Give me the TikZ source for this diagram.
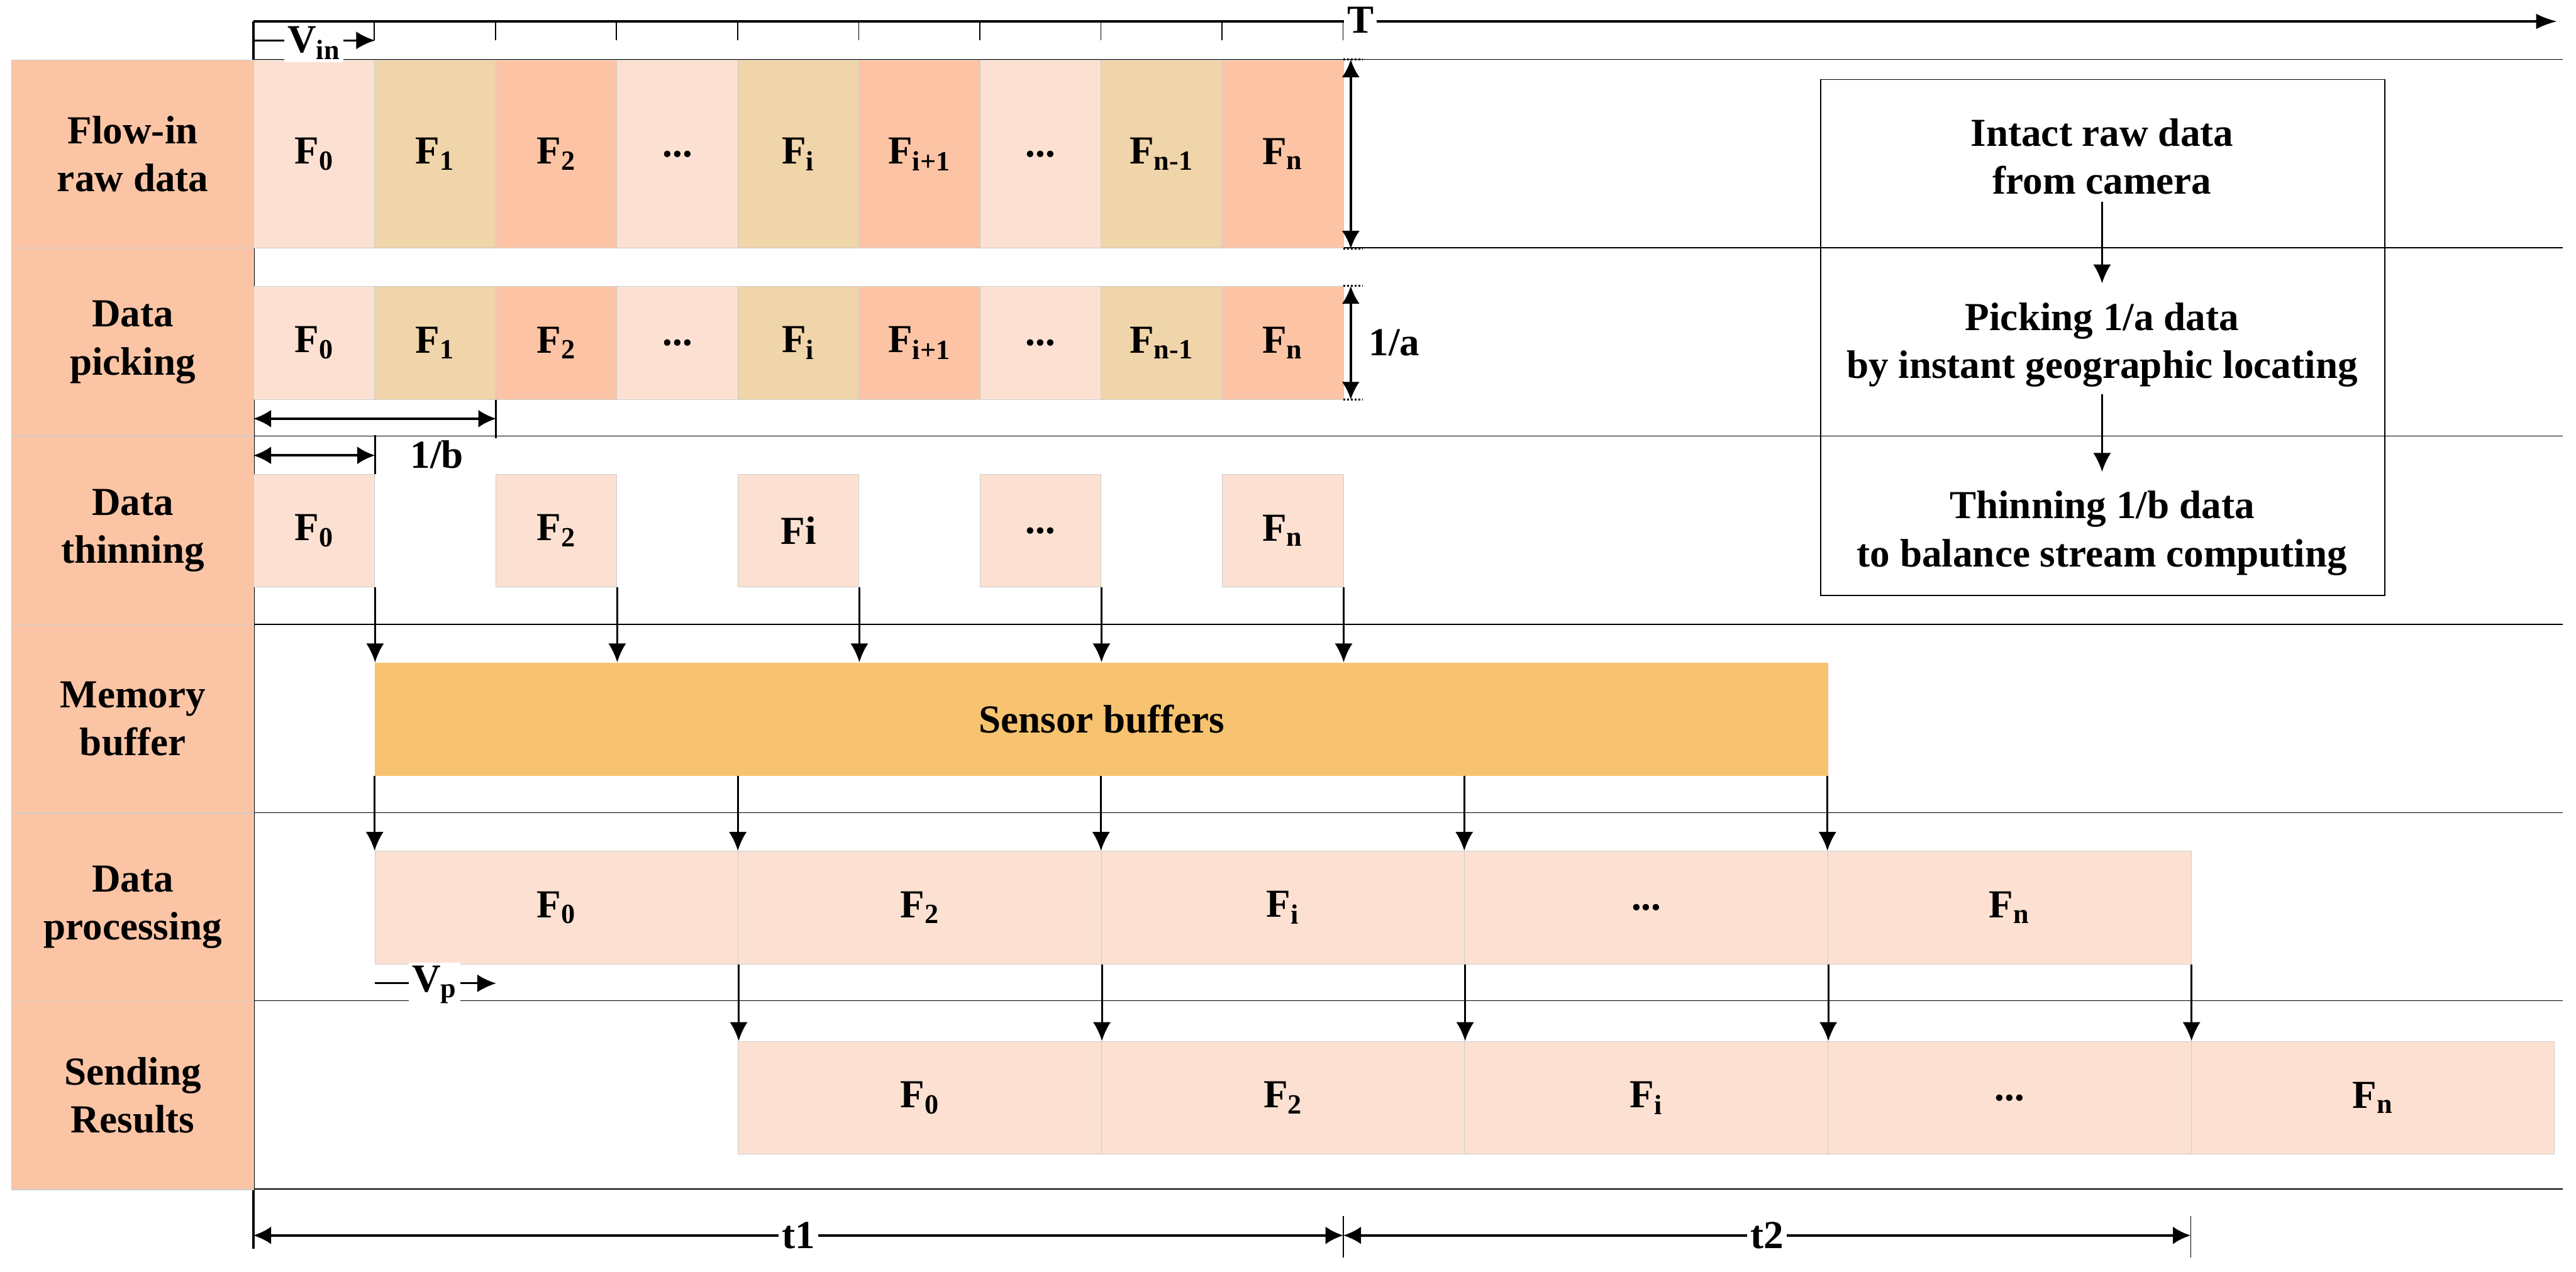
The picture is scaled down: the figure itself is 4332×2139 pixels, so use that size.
\documentclass[tikz,border=0pt]{standalone}
\usepackage{fontspec}
\setmainfont{Liberation Serif}
\usetikzlibrary{arrows.meta,positioning}
\definecolor{labcol}{RGB}{251,197,165}
\definecolor{lightcol}{RGB}{252,225,210}
\definecolor{tancol}{RGB}{240,212,170}
\definecolor{salmoncol}{RGB}{252,196,165}
\definecolor{bufcol}{RGB}{248,195,112}
\newcommand{\Fr}[1]{F\textsubscript{#1}}
\newcommand{\ellip}{...}
\begin{document}
\begin{tikzpicture}[x=0.01cm,y=-0.01cm,font=\fontsize{19}{23}\selectfont\bfseries,
  lab/.style={draw=black!20,line width=0.4pt,fill=labcol,minimum width=4.07cm,minimum height=3.167cm,inner sep=0pt,align=center,anchor=north west},
  cell/.style={draw=black!20,line width=0.3pt,fill=lightcol,minimum width=2.036cm,minimum height=1.9cm,inner sep=0pt,anchor=north west},
  wide/.style={cell,minimum width=6.108cm},
  dn/.style={-{Latex[length=9pt,width=8.5pt]},line width=0.9pt},
  dim/.style={{Latex[length=8.5pt,width=8.5pt]}-{Latex[length=8.5pt,width=8.5pt]},line width=1.2pt},
  rowline/.style={line width=0.45pt},
  tag/.style={fill=white,inner sep=1.5pt}]
\useasboundingbox (0,0) rectangle (4332,2139);

% grid lines and time axis
\foreach \y in {100,416.7,733.3,1050,1366.7,1683.3,2000}
  \draw[rowline] (426,\y) -- (4310,\y);
\draw[line width=1.1pt] (426,36) -- (426,2100);
\draw[line width=1.1pt,-{Latex[length=10pt,width=7.5pt]}] (426,36) -- (4300,36);
\foreach \i in {1,...,9}
  \draw[line width=0.5pt] ({426+203.6*\i},36) -- ({426+203.6*\i},68);
\node[tag] (T) at (2288,34) {T};

% row labels
\foreach \t [count=\i from 0] in {{Flow-in\\raw data},{Data\\picking},{Data\\thinning},{Memory\\buffer},{Data\\processing},{Sending\\Results}}
  \node[lab] (lab\i) at (19,{100+316.67*\i}) {\t};

% flow-in and picked frames
\foreach \t/\c [count=\i from 0] in {\Fr{0}/lightcol,\Fr{1}/tancol,\Fr{2}/salmoncol,\ellip/lightcol,\Fr{i}/tancol,\Fr{i+1}/salmoncol,\ellip/lightcol,\Fr{n-1}/tancol,\Fr{n}/salmoncol}{
  \node[cell,fill=\c,minimum height=3.17cm] (in\i) at ({426+203.6*\i},100) {\t};
  \node[cell,fill=\c] (pk\i) at ({426+203.6*\i},481) {\t};
}

% thinned frames
\foreach \t/\k in {\Fr{0}/0,\Fr{2}/2,Fi/4,\ellip/6,\Fr{n}/8}
  \node[cell] (th\k) at ({426+203.6*\k},797) {\t};

% buffer
\node[cell,fill=bufcol,draw=none,minimum width=24.43cm] (buf) at (630,1114) {Sensor buffers};

% processing and sending
\foreach \t [count=\i from 0] in {\Fr{0},\Fr{2},\Fr{i},\ellip,\Fr{n}}{
  \node[wide] (pr\i) at ({630+610.8*\i},1431) {\t};
  \node[wide] (sd\i) at ({1241+610.8*\i},1751) {\t};
}

% flow arrows
\foreach \k in {0,2,4,6,8}
  \draw[dn] (th\k.south east) -- (th\k.south east |- buf.north);
\foreach \k in {0,...,4}{
  \draw[dn] (pr\k.north west |- buf.south) -- (pr\k.north west);
  \draw[dn] (pr\k.south east) -- (pr\k.south east |- sd\k.north);
}

% speeds
\coordinate (vin) at (426,68);
\draw[dn] (vin) -- (vin -| in0.east);
\node[tag] (vinlab) at (528,72) {V\textsubscript{in}};
\coordinate (vp) at (630,1654);
\draw[dn] (vp) -- (vp -| pk1.east);
\node[tag] (vplab) at (731,1656) {V\textsubscript{p}};

% ratios a and b
\draw[dim] ([xshift=0.12cm]in8.north east) -- ([xshift=0.12cm]in8.south east);
\draw[dim] ([xshift=0.12cm]pk8.north east) -- ([xshift=0.12cm]pk8.south east);
\foreach \n in {in8,pk8}{
  \draw[densely dotted,line width=0.8pt] (\n.north east) -- ++(32,0);
  \draw[densely dotted,line width=0.8pt] (\n.south east) -- ++(32,0);
}
\node[anchor=west] (la) at ([xshift=0.3cm]pk8.east) {1/a};
\draw[line width=0.9pt] (pk1.south east) -- ++(0,65);
\draw[line width=0.9pt] (th0.north east) -- ++(0,-65);
\draw[dim] ([yshift=-0.32cm]pk0.south west) -- ([yshift=-0.32cm]pk1.south east);
\draw[dim] ([yshift=0.31cm]th0.north west) -- ([yshift=0.31cm]th0.north east);
\node (lb) at (735,765) {1/b};

% note box
\node[draw,line width=0.5pt,minimum width=9.48cm,minimum height=8.67cm,anchor=north west,inner sep=0pt] (note) at (3061,133) {};
\node[align=center] (s1) at (3535,263) {Intact raw data\\from camera};
\node[align=center] (s2) at (3535,580) {Picking 1/a data\\by instant geographic locating};
\node[align=center] (s3) at (3535,897) {Thinning 1/b data\\to balance stream computing};
\draw[dn,shorten >=0.2cm] (s1) -- (s2);
\draw[dn,shorten >=0.2cm] (s2) -- (s3);

% periods t1 and t2
\coordinate (ta) at (426,2078);
\coordinate (tb) at (2259,2078);
\coordinate (tc) at (3684,2078);
\draw[line width=0.5pt] ([yshift=0.33cm]tb) -- ([yshift=-0.37cm]tb);
\draw[line width=0.5pt] ([yshift=0.33cm]tc) -- ([yshift=-0.37cm]tc);
\draw[dim] (ta) -- node[tag] (t1) {t1} (tb);
\draw[dim] (tb) -- node[tag] (t2) {t2} (tc);
\end{tikzpicture}
\end{document}
